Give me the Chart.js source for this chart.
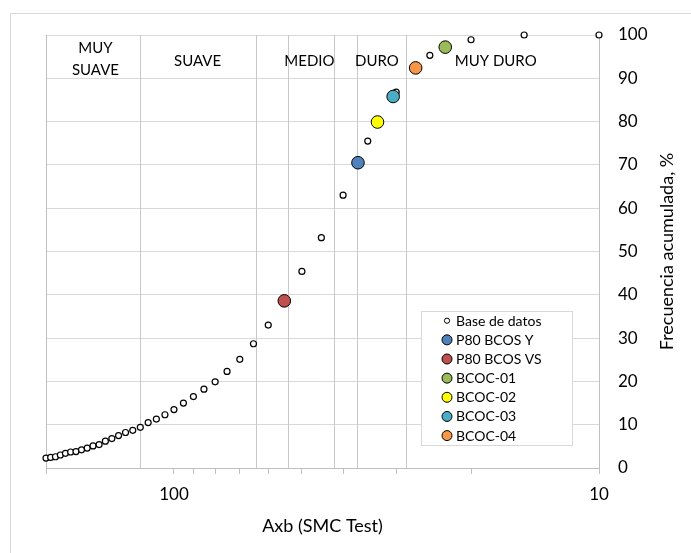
<!DOCTYPE html>
<html>
<head>
<meta charset="utf-8">
<script src="https://cdn.jsdelivr.net/npm/chart.js@4"></script>
<style>
  html, body { margin: 0; padding: 0; background: #fff; }
  #wrap { position: relative; width: 691px; height: 553px; overflow: hidden; }
  #frame { position: absolute; left: 10px; top: 13px; width: 720px; height: 600px;
           border: 1px solid #d9d9d9; box-sizing: border-box; }
  #chart { position: absolute; left: 0; top: 0; }
</style>
</head>
<body>
<div id="wrap">
  <div id="frame"></div>
  <canvas id="chart" width="691" height="553"></canvas>
</div>
<script>
"use strict";

// Base de datos: Axb vs frecuencia acumulada (%)
const baseAxb  = [200, 195, 190, 185, 180, 175, 170, 165, 160, 155, 150, 145, 140, 135, 130,
                  125, 120, 115, 110, 105, 100, 95, 90, 85, 80, 75, 70, 65, 60, 50,
                  45, 40, 35, 30, 25, 20, 15, 10];
const baseFreq = [2.3, 2.45, 2.6, 3.0, 3.4, 3.7, 3.8, 4.2, 4.6, 5.1, 5.4, 6.2, 6.8, 7.5, 8.2,
                  8.7, 9.4, 10.5, 11.3, 12.3, 13.5, 15.0, 16.5, 18.2, 19.9, 22.3, 25.1, 28.7, 33.0, 45.4,
                  53.2, 63.0, 75.5, 86.8, 95.3, 98.9, 100, 100];

// Muestras
const sampleNames = ["P80 BCOS Y", "P80 BCOS VS", "BCOC-01", "BCOC-02", "BCOC-03", "BCOC-04"];
const sampleAxb   = [36.9, 55.0, 23.0, 33.2, 30.5, 27.0];
const sampleFreq  = [70.5, 38.6, 97.2, 79.9, 85.8, 92.4];

// Hardness zones
const zoneBounds  = [120, 64, 54, 42, 37, 28.5];
const zoneNames   = [["MUY", "SUAVE"], ["SUAVE"], ["MEDIO"], ["DURO"], ["MUY DURO"]];
const zoneCenters = [153, 88, 48, 33.3, 17.5];
const zoneLabelFreq = 94;

// Axis ticks
const xTickValues = [200, 100, 90, 80, 70, 60, 50, 40, 30, 20, 10];
const xTickLabels = ["", "100", "", "", "", "", "", "", "", "", "10"];

const C = {
  text: "#000000",
  grid: "#d9d9d9",
  axis: "#bfbfbf",
  zone: "#c8c8c8",
  samples: ["#4F81BD", "#C0504D", "#9BBB59", "#FFFF00", "#4BACC6", "#F79646"],
};
const FONT = "Lato, 'Open Sans', sans-serif";

// vertical zone lines + plot frame + zone names + legend + titles
const decorPlugin = {
  id: "decor",
  beforeDatasetsDraw(chart) {
    const { ctx, chartArea: a, scales } = chart;
    ctx.save();
    ctx.strokeStyle = C.zone;
    ctx.lineWidth = 1;
    zoneBounds.forEach((v) => {
      const x = Math.round(scales.x.getPixelForValue(v)) + 0.5;
      ctx.beginPath();
      ctx.moveTo(x, a.top);
      ctx.lineTo(x, a.bottom);
      ctx.stroke();
    });
    // left edge of plot area
    ctx.strokeStyle = C.axis;
    const xl = Math.round(a.left) + 0.5;
    ctx.beginPath();
    ctx.moveTo(xl, a.top);
    ctx.lineTo(xl, a.bottom);
    ctx.stroke();
    ctx.restore();
  },
  afterDatasetsDraw(chart) {
    const { ctx, scales } = chart;
    ctx.save();
    ctx.fillStyle = C.text;
    ctx.font = `15px ${FONT}`;
    ctx.textAlign = "center";
    ctx.textBaseline = "middle";
    const yc = scales.y.getPixelForValue(zoneLabelFreq);
    zoneNames.forEach((lines, i) => {
      const x = scales.x.getPixelForValue(zoneCenters[i]);
      const lh = 21.6;
      const y0 = yc - ((lines.length - 1) * lh) / 2 - (lines.length > 1 ? 2 : 0);
      lines.forEach((t, j) => ctx.fillText(t, x, y0 + j * lh));
    });
    ctx.restore();
  },
  afterDraw(chart) {
    const { ctx, chartArea: a } = chart;
    ctx.save();

    // legend
    ctx.fillStyle = "#fff";
    ctx.fillRect(422, 311, 151, 135);
    ctx.strokeStyle = C.grid;
    ctx.lineWidth = 1;
    ctx.strokeRect(421.5, 311.5, 151, 134);
    ctx.font = `14px ${FONT}`;
    ctx.textAlign = "left";
    ctx.textBaseline = "middle";
    chart.data.datasets.forEach((ds, i) => {
      const y = 320.7 + i * 19.15;
      ctx.beginPath();
      ctx.arc(447, y, i === 0 ? 2.6 : 5, 0, Math.PI * 2);
      ctx.fillStyle = ds.backgroundColor;
      ctx.fill();
      ctx.lineWidth = 1;
      ctx.strokeStyle = "#000";
      ctx.stroke();
      ctx.fillStyle = C.text;
      ctx.fillText(ds.label, 456, y + 0.5);
    });

    // axis titles
    ctx.font = `18px ${FONT}`;
    ctx.textAlign = "center";
    ctx.fillText("Axb (SMC Test)", (a.left + a.right) / 2, 526);
    ctx.translate(667, (a.top + a.bottom) / 2);
    ctx.rotate(-Math.PI / 2);
    ctx.fillText("Frecuencia acumulada, %", 0, 0);
    ctx.restore();
  },
};

function draw() {
  const datasets = [
    {
      label: "Base de datos",
      data: baseAxb.map((x, i) => ({ x, y: baseFreq[i] })),
      backgroundColor: "#ffffff",
      borderColor: "#000000",
      borderWidth: 1.2,
      pointRadius: 3,
      clip: false,
      order: 1,
    },
  ];
  sampleNames.forEach((name, i) => {
    datasets.push({
      label: name,
      data: [{ x: sampleAxb[i], y: sampleFreq[i] }],
      backgroundColor: C.samples[i],
      borderColor: "#000000",
      borderWidth: 1,
      pointRadius: 6.3,
      clip: false,
      order: 0,
    });
  });

  new Chart(document.getElementById("chart"), {
    type: "scatter",
    data: { datasets },
    options: {
      responsive: false,
      animation: false,
      layout: { padding: { left: 46, top: 35, right: 0, bottom: 0 } },
      plugins: {
        legend: { display: false },
        tooltip: { enabled: false },
      },
      scales: {
        x: {
          type: "logarithmic",
          reverse: true,
          min: 10,
          max: 200,
          position: "bottom",
          afterBuildTicks: (s) => { s.ticks = xTickValues.map((v) => ({ value: v })); },
          afterFit: (s) => { s.height = 85; },
          grid: { drawOnChartArea: false, drawTicks: true, tickLength: 6, color: C.axis },
          border: { color: C.axis },
          ticks: {
            autoSkip: false,
            maxRotation: 0,
            padding: 10,
            color: C.text,
            font: { family: FONT, size: 17 },
            callback: (v) => xTickLabels[xTickValues.indexOf(v)] ?? "",
          },
        },
        y: {
          position: "right",
          min: 0,
          max: 100,
          afterFit: (s) => { s.width = 92; },
          grid: { color: C.grid, drawTicks: false },
          border: { color: C.axis },
          ticks: {
            stepSize: 10,
            padding: 19,
            color: C.text,
            font: { family: FONT, size: 17 },
          },
        },
      },
    },
    plugins: [decorPlugin],
  });
}

document.fonts.load(`17px Lato`).then(draw, draw);
</script>
</body>
</html>
